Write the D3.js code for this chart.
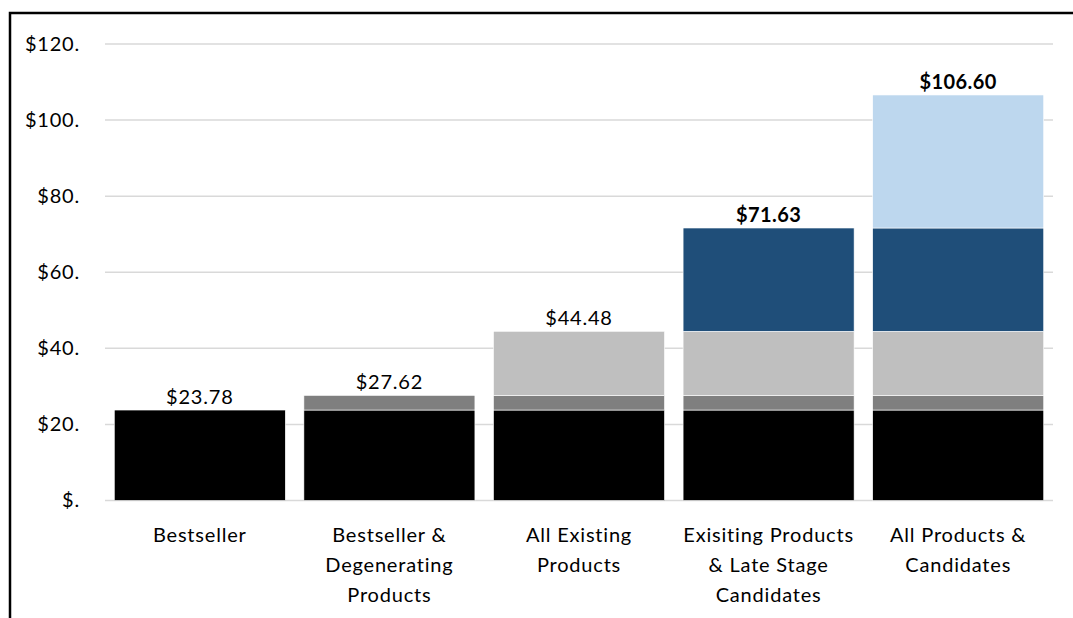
<!DOCTYPE html>
<html>
<head>
<meta charset="utf-8">
<script src="https://cdn.jsdelivr.net/npm/d3@7"></script>
<style>
  html, body { margin: 0; padding: 0; background: #fff; }
  svg { display: block; font-family: Lato, "Open Sans", sans-serif; }
</style>
</head>
<body>
<svg id="chart" width="1073" height="618"></svg>
<script>
// Categories (multi-line labels) and cumulative valuation components
const categories = [
  ["Bestseller"],
  ["Bestseller &", "Degenerating", "Products"],
  ["All Existing", "Products"],
  ["Exisiting Products", "& Late Stage", "Candidates"],
  ["All Products &", "Candidates"]
];
const seriesNames = ["Bestseller", "Degenerating", "Other Existing", "Late Stage", "Early Candidates"];
const bestseller   = [23.78, 23.78, 23.78, 23.78, 23.78];
const degenerating = [0, 3.84, 3.84, 3.84, 3.84];
const otherExisting = [0, 0, 16.86, 16.86, 16.86];
const lateStage    = [0, 0, 0, 27.15, 27.15];
const earlyCands   = [0, 0, 0, 0, 34.97];
const totals = [23.78, 27.62, 44.48, 71.63, 106.60];
const totalLabels = ["$23.78", "$27.62", "$44.48", "$71.63", "$106.60"];
const boldLabel = [false, false, false, true, true];
const yTicks = [0, 20, 40, 60, 80, 100, 120];
const yTickLabels = ["$.", "$20.", "$40.", "$60.", "$80.", "$100.", "$120."];
const colors = ["#000000", "#7f7f7f", "#bfbfbf", "#1f4e79", "#bdd7ee"];

const FONT_SIZE = 20;
const SPACING = 0.8;

const svg = d3.select("#chart");

// Chart frame
svg.append("rect")
  .attr("x", 10).attr("y", 13)
  .attr("width", 1100).attr("height", 700)
  .attr("fill", "none").attr("stroke", "#000").attr("stroke-width", 2.5);

const plot = { left: 105, right: 1053, top: 44, bottom: 500.5 };

const x = d3.scaleBand()
  .domain(d3.range(categories.length))
  .range([plot.left, plot.right])
  .paddingInner(0.098).paddingOuter(0.049);

const y = d3.scaleLinear().domain([0, 120]).range([plot.bottom, plot.top]);

// Gridlines
svg.append("g").selectAll("line").data(yTicks).join("line")
  .attr("x1", plot.left).attr("x2", plot.right)
  .attr("y1", d => y(d)).attr("y2", d => y(d))
  .attr("stroke", "#d9d9d9").attr("stroke-width", 1.5);

// Y axis tick labels
const yAxis = d3.axisLeft(y).tickValues(yTicks)
  .tickFormat((d, i) => yTickLabels[i]).tickSize(0).tickPadding(0);
const ya = svg.append("g").attr("transform", `translate(80,0)`).call(yAxis);
ya.select(".domain").remove();
ya.selectAll("text")
  .attr("font-family", "Lato, 'Open Sans', sans-serif")
  .attr("font-size", FONT_SIZE).attr("letter-spacing", SPACING).attr("fill", "#000");

// Stacked bars
const rows = categories.map((c, i) => ({
  idx: i,
  "Bestseller": bestseller[i],
  "Degenerating": degenerating[i],
  "Other Existing": otherExisting[i],
  "Late Stage": lateStage[i],
  "Early Candidates": earlyCands[i]
}));
const stacked = d3.stack().keys(seriesNames)(rows);

svg.append("g").selectAll("g").data(stacked).join("g")
  .attr("fill", (d, i) => colors[i])
  .selectAll("rect")
  .data(d => d.filter(p => p[1] - p[0] > 0))
  .join("rect")
  .attr("x", d => x(d.data.idx))
  .attr("width", x.bandwidth())
  .attr("y", d => y(d[1]))
  .attr("height", d => y(d[0]) - y(d[1]))
  .attr("stroke", "#ffffff").attr("stroke-width", 0.6);

// Total value labels
svg.append("g").selectAll("text").data(totals).join("text")
  .attr("x", (d, i) => x(i) + x.bandwidth() / 2)
  .attr("y", d => y(d) - 6)
  .attr("text-anchor", "middle")
  .attr("font-size", FONT_SIZE)
  .attr("letter-spacing", (d, i) => boldLabel[i] ? 0.4 : SPACING)
  .attr("font-weight", (d, i) => boldLabel[i] ? "bold" : "normal")
  .attr("fill", "#000")
  .text((d, i) => totalLabels[i]);

// Category labels
const xl = svg.append("g").selectAll("text").data(categories).join("text")
  .attr("x", (d, i) => x(i) + x.bandwidth() / 2)
  .attr("y", 542)
  .attr("text-anchor", "middle")
  .attr("font-size", FONT_SIZE)
  .attr("letter-spacing", SPACING)
  .attr("fill", "#000");
xl.selectAll("tspan").data(d => d).join("tspan")
  .attr("x", function () { return d3.select(this.parentNode).attr("x"); })
  .attr("dy", (d, i) => i === 0 ? 0 : 30)
  .text(d => d);
</script>
</body>
</html>
